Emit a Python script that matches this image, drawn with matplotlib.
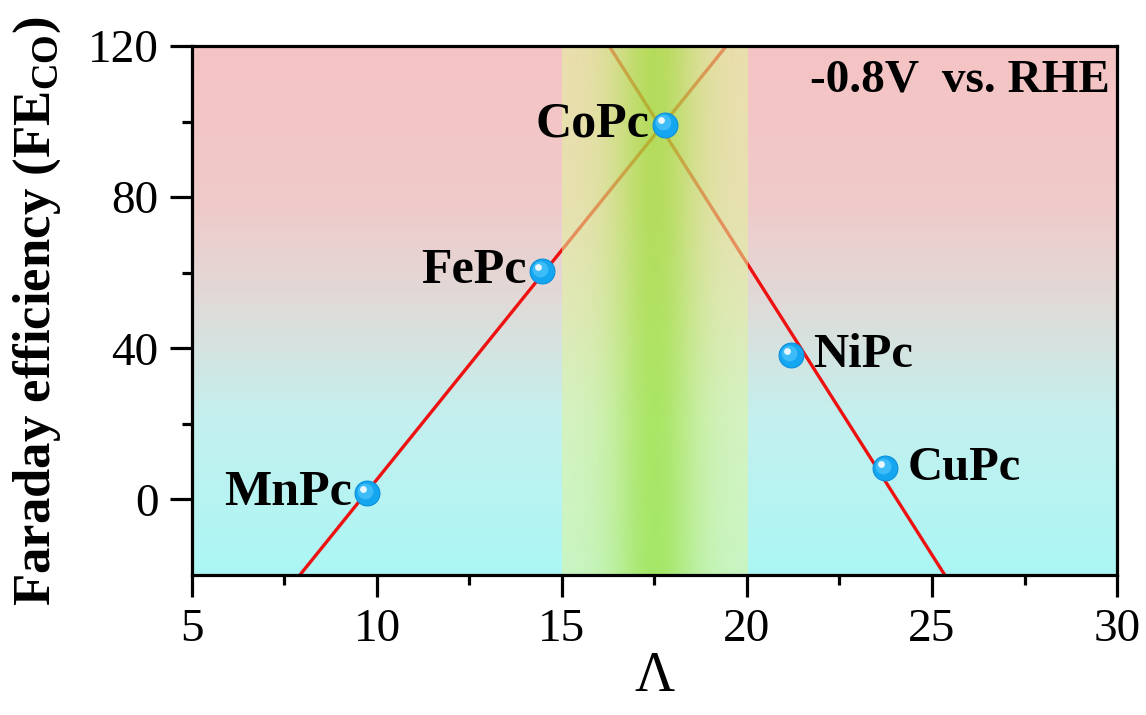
import matplotlib
matplotlib.use("Agg")
import matplotlib.pyplot as plt
import numpy as np
from matplotlib.colors import LinearSegmentedColormap
from matplotlib.transforms import offset_copy

plt.rcParams['font.family'] = ['Liberation Serif', 'DejaVu Serif']
plt.rcParams['mathtext.fontset'] = 'custom'
plt.rcParams['mathtext.rm'] = 'Liberation Serif:bold'
plt.rcParams['mathtext.bf'] = 'Liberation Serif:bold'

# data
names = ["MnPc", "FePc", "CoPc", "NiPc", "CuPc"]
lam = [9.73, 14.46, 17.78, 21.2, 23.73]
fe_co = [1.6, 60.5, 99.2, 38.3, 8.2]
left_group = [0, 1, 2]
right_group = [2, 3, 4]
band = (15, 20)
label_side = ["left", "left", "left", "right", "right"]

xlim = (5, 30)
ylim = (-20, 120)

fig = plt.figure(figsize=(11.46, 7.15), dpi=100)
ax = fig.add_axes([0.1675, 0.1958, 0.8072, 0.7399])

# vertical background gradient: pink at top -> cyan at bottom
bg_cmap = LinearSegmentedColormap.from_list(
    "bg", [(0.0, "#abf7f5"), (0.3, "#c4f0ee"), (0.5, "#dedcd9"),
           (0.7, "#f0caca"), (1.0, "#f5c3c3")])
grad = np.linspace(0, 1, 256).reshape(-1, 1)
ax.imshow(grad, cmap=bg_cmap, aspect="auto", origin="lower",
          extent=[xlim[0], xlim[1], ylim[0], ylim[1]], zorder=0)

# linear fits on both sides of the volcano
xs = np.linspace(xlim[0], xlim[1], 200)
x_arr = np.array(lam)
y_arr = np.array(fe_co)
for grp in (left_group, right_group):
    k, b = np.polyfit(x_arr[grp], y_arr[grp], 1)
    ax.plot(xs, k * xs + b, color="#ee1111", lw=2.4, zorder=1)

# highlighted band (semi-transparent, green at centre)
t = np.linspace(-1, 1, 200)
w = np.exp(-(t / 0.5) ** 2)
edge = np.array([0.89, 0.96, 0.62])
centre = np.array([0.64, 0.89, 0.24])
rgb = edge[None, :] * (1 - w[:, None]) + centre[None, :] * w[:, None]
alpha = 0.55 + 0.22 * w
rgba = np.concatenate([rgb, alpha[:, None]], axis=1)[None, :, :]
ax.imshow(rgba, aspect="auto", extent=[band[0], band[1], ylim[0], ylim[1]],
          zorder=2, interpolation="bilinear")

# sphere-like markers
ax.scatter(lam, fe_co, s=320, color="#14a6f0", edgecolor="#0b8fdc",
           linewidth=0.8, zorder=3)
ax.scatter(lam, fe_co, s=130, color="#3dbcf8", linewidth=0, zorder=3,
           transform=offset_copy(ax.transData, fig=fig, x=-1.5, y=1.5, units="points"))
ax.scatter(lam, fe_co, s=24, color="#e8f7ff", linewidth=0, zorder=3,
           transform=offset_copy(ax.transData, fig=fig, x=-3, y=3, units="points"))

for name, x, y, side in zip(names, lam, fe_co, label_side):
    if side == "left":
        ax.annotate(name, (x, y), xytext=(-11, 0), textcoords="offset points",
                    ha="right", va="center", fontsize=36, fontweight="bold", zorder=4)
    else:
        ax.annotate(name, (x, y), xytext=(16, 0), textcoords="offset points",
                    ha="left", va="center", fontsize=35, fontweight="bold", zorder=4)

ax.text(0.992, 0.975, "-0.8V  vs. RHE", transform=ax.transAxes, ha="right", va="top",
        fontsize=34, fontweight="bold", zorder=4)

ax.set_xlim(xlim)
ax.set_ylim(ylim)
ax.set_xticks(np.arange(5, 31, 5))
ax.set_xticks(np.arange(7.5, 30, 5), minor=True)
ax.set_yticks(np.arange(0, 121, 40))
ax.set_yticks(np.arange(20, 121, 40), minor=True)
ax.tick_params(which="major", direction="out", length=16, width=2.3, labelsize=34, pad=8)
ax.tick_params(which="minor", direction="out", length=7.5, width=2.3)
ax.tick_params(top=False, right=False)
for sp in ax.spines.values():
    sp.set_linewidth(2.3)

ax.set_xlabel("Λ", fontsize=40, labelpad=0)
ax.set_ylabel(r"Faraday efficiency (FE$_{\rm CO}$)", fontsize=38, fontweight="bold", labelpad=18)

fig.savefig("out.png", dpi=100)
